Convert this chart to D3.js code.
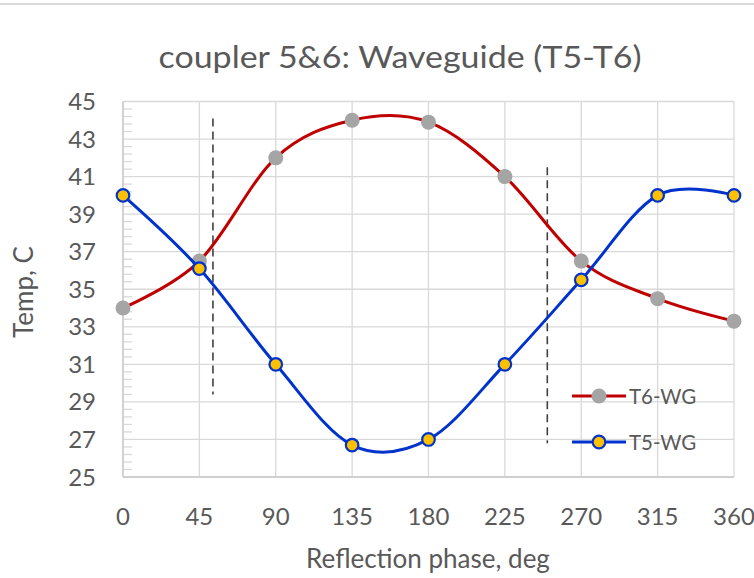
<!DOCTYPE html>
<html>
<head>
<meta charset="utf-8">
<script src="https://cdn.jsdelivr.net/npm/d3@7"></script>
<style>
  body { margin: 0; background: #fff; }
  text { font-family: Lato, "Open Sans", sans-serif; fill: #595959; }
</style>
</head>
<body>
<svg width="754" height="578"></svg>
<script>
var phase = [0, 45, 90, 135, 180, 225, 270, 315, 360];
var t6 = [34, 36.5, 42, 44, 43.9, 41, 36.5, 34.5, 33.3];
var t5 = [40, 36.1, 31, 26.7, 27, 31, 35.5, 40, 40];
var yTicks = [25, 27, 29, 31, 33, 35, 37, 39, 41, 43, 45];
// dashed markers: [phase, top temp, bottom temp]
var dashA = [53, 44.1, 29.4];
var dashB = [250, 41.5, 26.8];

var svg = d3.select("svg"),
  pLeft = 123, pRight = 734, pTop = 101.5, pBottom = 477;

var x = d3.scaleLinear().domain([0, 360]).range([pLeft, pRight]);
var y = d3.scaleLinear().domain([25, 45]).range([pBottom, pTop]);

// chart border at top
svg.append("line")
  .attr("x1", 0).attr("x2", 754).attr("y1", 4).attr("y2", 4)
  .attr("stroke", "#d9d9d9").attr("stroke-width", 2);

// gridlines
svg.append("g").selectAll("line").data(yTicks).enter().append("line")
  .attr("x1", pLeft).attr("x2", pRight)
  .attr("y1", function(d) { return y(d); }).attr("y2", function(d) { return y(d); })
  .attr("stroke", "#d9d9d9").attr("stroke-width", 1.3);
svg.append("g").selectAll("line").data(phase).enter().append("line")
  .attr("x1", function(d) { return x(d); }).attr("x2", function(d) { return x(d); })
  .attr("y1", pTop).attr("y2", pBottom)
  .attr("stroke", "#d9d9d9").attr("stroke-width", 1.3);

// minor ticks on y axis (inside)
var minor = d3.range(25.4, 45, 0.4).filter(function(d) { return Math.abs((d - 25) / 2 - Math.round((d - 25) / 2)) > 0.01; });
svg.append("g").selectAll("line").data(minor).enter().append("line")
  .attr("x1", pLeft).attr("x2", pLeft + 9)
  .attr("y1", function(d) { return y(d); }).attr("y2", function(d) { return y(d); })
  .attr("stroke", "#d9d9d9").attr("stroke-width", 1.3);

// axis lines
svg.append("line").attr("x1", pLeft).attr("x2", pLeft).attr("y1", pTop).attr("y2", pBottom)
  .attr("stroke", "#d0d0d0").attr("stroke-width", 1.8);
svg.append("line").attr("x1", pLeft).attr("x2", pRight).attr("y1", pBottom).attr("y2", pBottom)
  .attr("stroke", "#d0d0d0").attr("stroke-width", 1.8);

// tick labels
svg.append("g").selectAll("text").data(yTicks).enter().append("text")
  .attr("x", 96).attr("y", function(d) { return y(d) + 8.5; })
  .attr("text-anchor", "end").style("font-size", "24px")
  .text(function(d) { return d; });
svg.append("g").selectAll("text").data(phase).enter().append("text")
  .attr("x", function(d) { return x(d); }).attr("y", 525)
  .attr("text-anchor", "middle").style("font-size", "24px")
  .text(function(d) { return d; });

// titles
svg.append("text").attr("x", 400).attr("y", 68).attr("text-anchor", "middle")
  .attr("textLength", 483).attr("lengthAdjust", "spacingAndGlyphs")
  .style("font-size", "30px").text("coupler 5&6: Waveguide (T5-T6)");
svg.append("text").attr("x", 428).attr("y", 568).attr("text-anchor", "middle")
  .style("font-size", "26px").text("Reflection phase, deg");
svg.append("text").attr("transform", "translate(33,292) rotate(-90)").attr("text-anchor", "middle")
  .style("font-size", "26px").text("Temp, C");

// dashed vertical lines
[dashA, dashB].forEach(function(d) {
  svg.append("line")
    .attr("x1", x(d[0])).attr("x2", x(d[0])).attr("y1", y(d[1])).attr("y2", y(d[2]))
    .attr("stroke", "#404040").attr("stroke-width", 1.6).attr("stroke-dasharray", "8,5");
});

var line = d3.line()
  .x(function(d, i) { return x(phase[i]); })
  .y(function(d) { return y(d); })
  .curve(d3.curveCardinal.tension(0));

// T6 series
svg.append("path").datum(t6).attr("d", line)
  .attr("fill", "none").attr("stroke", "#c00000").attr("stroke-width", 3);
svg.append("g").selectAll("circle").data(t6).enter().append("circle")
  .attr("cx", function(d, i) { return x(phase[i]); }).attr("cy", function(d) { return y(d); })
  .attr("r", 7.5).attr("fill", "#a5a5a5");

// T5 series
svg.append("path").datum(t5).attr("d", line)
  .attr("fill", "none").attr("stroke", "#0033cc").attr("stroke-width", 3);
svg.append("g").selectAll("circle").data(t5).enter().append("circle")
  .attr("cx", function(d, i) { return x(phase[i]); }).attr("cy", function(d) { return y(d); })
  .attr("r", 6.3).attr("fill", "#ffc000").attr("stroke", "#0033cc").attr("stroke-width", 2.2);

// legend
var legend = [
  { name: "T6-WG", line: "#c00000", fill: "#a5a5a5", stroke: "none", y: 396 },
  { name: "T5-WG", line: "#0033cc", fill: "#ffc000", stroke: "#0033cc", y: 442 }
];
var lg = svg.append("g").selectAll("g").data(legend).enter().append("g");
lg.append("line").attr("x1", 572).attr("x2", 626)
  .attr("y1", function(d) { return d.y; }).attr("y2", function(d) { return d.y; })
  .attr("stroke", function(d) { return d.line; }).attr("stroke-width", 3);
lg.append("circle").attr("cx", 599).attr("cy", function(d) { return d.y; })
  .attr("r", function(d) { return d.stroke == "none" ? 7.5 : 6.3; })
  .attr("fill", function(d) { return d.fill; })
  .attr("stroke", function(d) { return d.stroke; }).attr("stroke-width", 2.2);
lg.append("text").attr("x", 629).attr("y", function(d) { return d.y + 7.5; })
  .style("font-size", "20.5px").text(function(d) { return d.name; });
</script>
</body>
</html>
